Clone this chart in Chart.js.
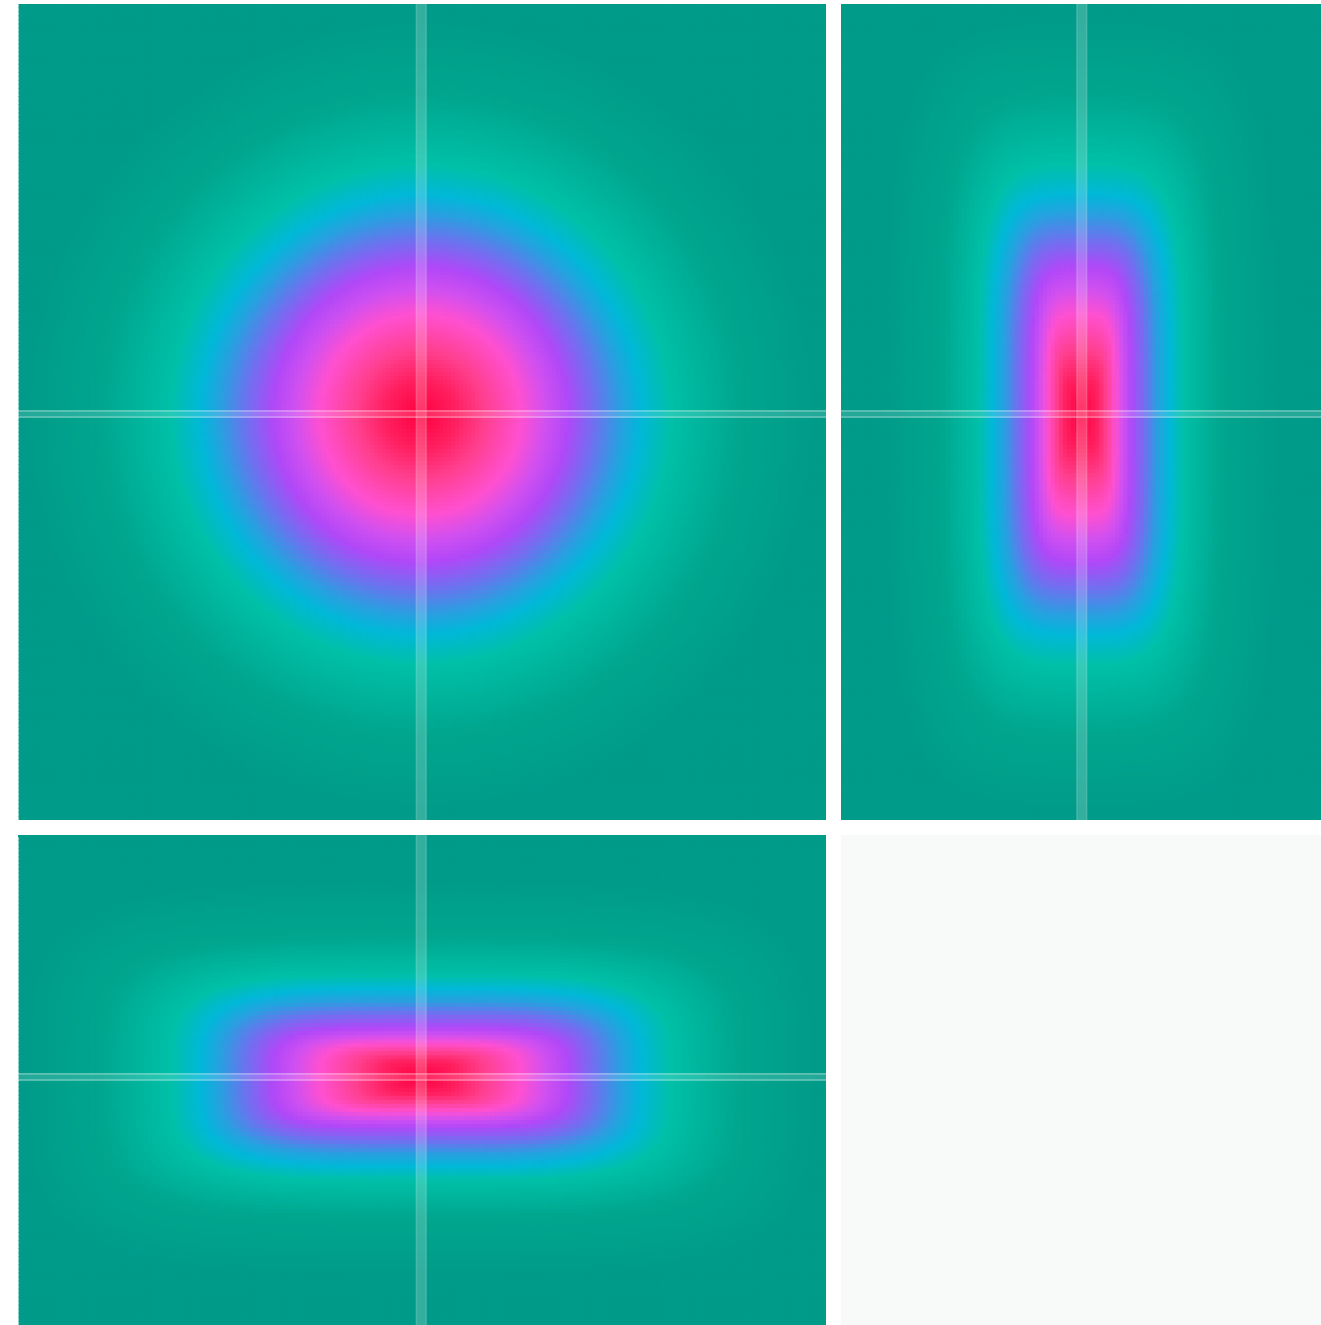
<!DOCTYPE html>
<html><head><meta charset="utf-8">
<script src="https://cdn.jsdelivr.net/npm/chart.js@4/dist/chart.umd.min.js"></script>
<style>
html,body{margin:0;padding:0;background:#ffffff;width:1321px;height:1325px;overflow:hidden}
.p{position:absolute}
#blank{left:841px;top:835px;width:480px;height:490px;background:#f8fafa}
canvas{display:block}
</style></head><body>
<div class="p" style="left:18px;top:4px;width:808px;height:816px"><canvas id="cXY" width="808" height="816"></canvas></div>
<div class="p" style="left:841px;top:4px;width:480px;height:816px"><canvas id="cZY" width="480" height="816"></canvas></div>
<div class="p" style="left:18px;top:835px;width:808px;height:490px"><canvas id="cXZ" width="808" height="490"></canvas></div>
<div class="p" id="blank"></div>
<script>
// ---- data ----
// intensity levels (colour-scale positions) and the colour seen at each level
const LEVELS = [1.00, 0.90, 0.80, 0.70, 0.62, 0.55, 0.45, 0.35, 0.28, 0.20, 0.08, 0.00];
const LEVEL_COLORS = ['#ff0040','#ff2060','#ff4090','#ff50d0','#d050f0','#b048f8','#7070f0','#28a0e0','#00b8d8','#00c0a8','#00a68e','#009b89'];
// lateral distance (x/y units) from the centre at which each level is reached
const RADIUS_XY = [0, 4.4, 8.0, 12.4, 15.5, 18.3, 21.5, 24.8, 27.2, 30.9, 39.5, 49.4];
// axial distance (z units) from the centre at which each level is reached
const RADIUS_Z = [0, 2.0, 3.1, 4.2, 5.2, 6.2, 7.9, 9.5, 11.0, 12.7, 17.3, 24.7];
// axis extents of the three orthogonal views
const X_RANGE = [-49.9, 50.1];
const Y_RANGE = [-50.2, 50.7];
const Z_RANGE_SIDE = [-29.8, 29.6];
const Z_RANGE_BOTTOM = [-30.7, 29.95];
const CROSSHAIR = {x: 0, y: 0, z: 0};
const STEP = 0.5;       // grid step of the sampled volume
const SHAPE_EXP = 4;    // contour squareness in the side views

// ---- helpers ----
function radiusAtLevel(radii, v){
  if (v >= LEVELS[0]) return radii[0];
  for (let i = 1; i < LEVELS.length; i++) {
    if (v >= LEVELS[i]) {
      const t = (LEVELS[i-1] - v) / (LEVELS[i-1] - LEVELS[i]);
      return radii[i-1] + t * (radii[i] - radii[i-1]);
    }
  }
  return radii[radii.length-1];
}
function levelAtRadius(radii, r){
  if (r <= 0) return LEVELS[0];
  for (let i = 1; i < radii.length; i++) {
    if (r <= radii[i]) {
      const t = (r - radii[i-1]) / (radii[i] - radii[i-1]);
      return LEVELS[i-1] + t * (LEVELS[i] - LEVELS[i-1]);
    }
  }
  return LEVELS[LEVELS.length-1];
}
function levelAt(a, b){
  a = Math.abs(a); b = Math.abs(b);
  if (b === 0) return levelAtRadius(RADIUS_XY, a);
  if (a === 0) return levelAtRadius(RADIUS_Z, b);
  const f = v => {
    const rx = radiusAtLevel(RADIUS_XY, v), rz = radiusAtLevel(RADIUS_Z, v);
    if (rx <= 0 || rz <= 0) return Infinity;
    return Math.pow(a / rx, SHAPE_EXP) + Math.pow(b / rz, SHAPE_EXP);
  };
  if (f(0) >= 1) return 0;
  let lo = 0, hi = 1;
  for (let k = 0; k < 24; k++) { const m = (lo + hi) / 2; if (f(m) < 1) lo = m; else hi = m; }
  return lo;
}
const RGB = LEVEL_COLORS.map(h => [parseInt(h.slice(1,3),16), parseInt(h.slice(3,5),16), parseInt(h.slice(5,7),16)]);
const colorCache = {};
function colorOf(v){
  const q = Math.round(v * 1000);
  if (colorCache[q]) return colorCache[q];
  v = q / 1000;
  let c = RGB[RGB.length-1];
  for (let i = 1; i < LEVELS.length; i++) {
    if (v >= LEVELS[i]) {
      const t = (LEVELS[i-1] - v) / (LEVELS[i-1] - LEVELS[i]);
      const A = RGB[i-1], B = RGB[i];
      c = [A[0]+t*(B[0]-A[0]), A[1]+t*(B[1]-A[1]), A[2]+t*(B[2]-A[2])];
      break;
    }
  }
  return colorCache[q] = 'rgb(' + Math.round(c[0]) + ',' + Math.round(c[1]) + ',' + Math.round(c[2]) + ')';
}
function gridValues(lo, hi){
  const out = [];
  const start = Math.floor(lo / STEP) * STEP, end = Math.ceil(hi / STEP) * STEP;
  for (let v = start; v <= end + 1e-9; v += STEP) out.push(Math.round(v / STEP) * STEP);
  return out;
}
function buildView(hRange, vRange, valueFn){
  const pts = [], cols = [];
  const hs = gridValues(hRange[0], hRange[1]), vs = gridValues(vRange[0], vRange[1]);
  for (const h of hs) for (const v of vs) {
    pts.push({x: h, y: v});
    cols.push(colorOf(valueFn(h, v)));
  }
  return {pts, cols};
}

const crosshairPlugin = {
  id: 'crosshair',
  afterDatasetsDraw(chart, args, opts){
    const {ctx, chartArea: a, scales} = chart;
    const px = scales.x.getPixelForValue(opts.x), py = scales.y.getPixelForValue(opts.y);
    ctx.save();
    ctx.beginPath(); ctx.rect(a.left, a.top, a.right - a.left, a.bottom - a.top); ctx.clip();
    // vertical band
    ctx.fillStyle = 'rgba(255,255,255,0.20)';
    ctx.fillRect(px - 5.5, a.top, 11, a.bottom - a.top);
    ctx.fillStyle = 'rgba(255,255,255,0.10)';
    ctx.fillRect(px - 5.5, a.top, 1.5, a.bottom - a.top);
    ctx.fillRect(px + 4, a.top, 1.5, a.bottom - a.top);
    // horizontal double line
    ctx.fillStyle = 'rgba(255,255,255,0.14)';
    ctx.fillRect(a.left, py - 3.5, a.right - a.left, 7);
    ctx.fillStyle = 'rgba(255,255,255,0.30)';
    ctx.fillRect(a.left, py - 4, a.right - a.left, 1.8);
    ctx.fillRect(a.left, py + 2.2, a.right - a.left, 1.8);
    ctx.restore();
  }
};

function makeChart(id, hRange, vRange, valueFn, cross){
  const canvas = document.getElementById(id);
  const {pts, cols} = buildView(hRange, vRange, valueFn);
  const pxPerUnit = canvas.width / (hRange[1] - hRange[0]);
  const side = STEP * pxPerUnit + 1.2;
  new Chart(canvas, {
    type: 'scatter',
    data: {datasets: [{
      data: pts,
      backgroundColor: cols,
      borderWidth: 0,
      pointStyle: 'rect',
      pointRadius: side / (2 * Math.SQRT1_2),
      pointHoverRadius: side / (2 * Math.SQRT1_2)
    }]},
    options: {
      responsive: false,
      animation: false,
      events: [],
      parsing: false,
      normalized: true,
      layout: {padding: 0, autoPadding: false},
      scales: {
        x: {type: 'linear', display: false, min: hRange[0], max: hRange[1]},
        y: {type: 'linear', display: false, min: vRange[0], max: vRange[1]}
      },
      plugins: {legend: {display: false}, tooltip: {enabled: false}, crosshair: cross}
    },
    plugins: [crosshairPlugin]
  });
}

// XY slice at z = 0
makeChart('cXY', X_RANGE, Y_RANGE, (x, y) => levelAt(Math.hypot(x, y), 0), {x: CROSSHAIR.x, y: CROSSHAIR.y});
// ZY slice at x = 0
makeChart('cZY', Z_RANGE_SIDE, Y_RANGE, (z, y) => levelAt(y, z), {x: CROSSHAIR.z, y: CROSSHAIR.y});
// XZ slice at y = 0
makeChart('cXZ', X_RANGE, Z_RANGE_BOTTOM, (x, z) => levelAt(x, z), {x: CROSSHAIR.x, y: CROSSHAIR.z});
</script>
</body></html>
